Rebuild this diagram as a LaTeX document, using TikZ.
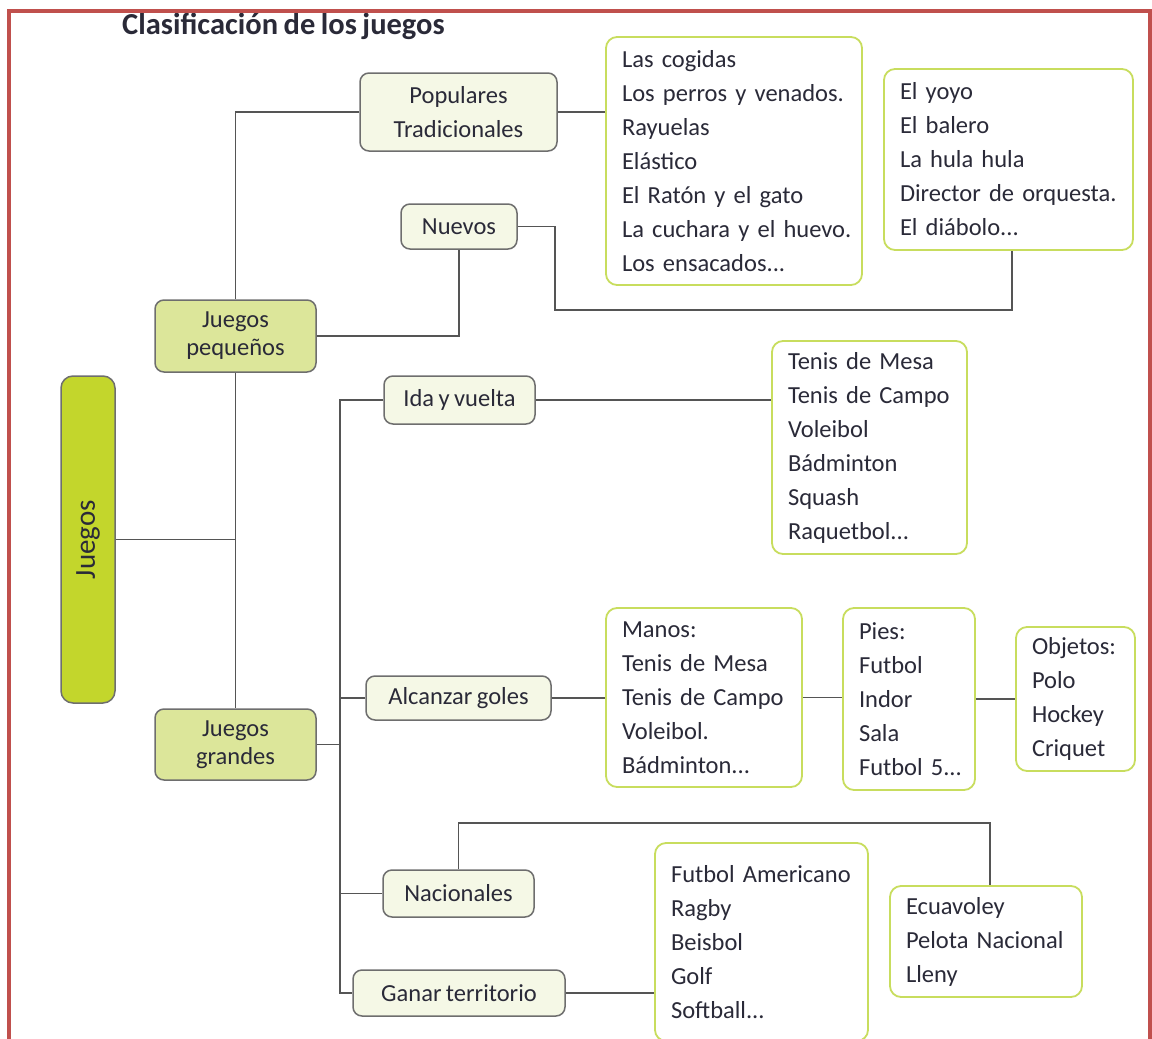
\documentclass[tikz,border=0pt]{standalone}
\usepackage{fontspec}
\setmainfont{Carlito}[WordSpace=0.8]
\definecolor{connc}{HTML}{555555}
\definecolor{nodeb}{HTML}{6E6E6E}
\definecolor{lightfill}{HTML}{F5F8E6}
\definecolor{midfill}{HTML}{DCE69A}
\definecolor{rootfill}{HTML}{C3D62C}
\definecolor{listb}{HTML}{C8DD5E}
\definecolor{txt}{HTML}{2A2A38}
\definecolor{redline}{HTML}{C0504D}
\newcommand\itm[1]{\mbox{#1}}
\begin{document}
\begin{tikzpicture}[x=1pt,y=-1pt,
  conn/.style={draw=connc,line width=1.9pt},
  catbox/.style={draw=nodeb,fill=lightfill,rounded corners=9pt,line width=1.5pt,text=txt,
    font=\fontsize{24.5}{34}\selectfont,align=center,inner sep=0pt},
  bigbox/.style={catbox,fill=midfill,font=\fontsize{24.5}{28}\selectfont},
  rootbox/.style={catbox,fill=rootfill,rounded corners=12pt,font=\fontsize{29}{30}\selectfont},
  listbox/.style={draw=listb,fill=white,rounded corners=11pt,line width=1.8pt,text=txt,
    font=\fontsize{24.5}{34}\selectfont,align=left,inner xsep=16pt,inner ysep=0pt},
  redframe/.style={draw=redline,line width=4pt}]
\useasboundingbox (0,0) rectangle (1152,1039);
\begin{scope}
\clip (0,0) rectangle (1152,1039);
% title
\begin{scope}
\clip (0,12) rectangle (700,60);
\node[anchor=base west,inner sep=0pt,text=txt,font=\bfseries\fontsize{30.5}{31}\selectfont] (title) at (122,34) {Clasificación de los juegos};
\end{scope}
% main nodes
\node[rootbox,rotate=90,minimum width=327pt,minimum height=54pt] (juegos) at (88,539.5) {Juegos};
\node[bigbox,minimum width=161pt,minimum height=72pt] (peq) at (235.5,336) {Juegos\\pequeños};
\node[bigbox,minimum width=161pt,minimum height=71pt] (gra) at (235.5,744.5) {Juegos\\grandes};
\node[catbox,minimum width=197pt,minimum height=78pt] (pop) at (458.5,112) {Populares\\Tradicionales};
\node[catbox,minimum width=116pt,minimum height=45pt] (nue) at (459,226.5) {Nuevos};
\node[catbox,minimum width=151pt,minimum height=48pt] (ida) at (459.5,400) {Ida y vuelta};
\node[catbox,minimum width=185pt,minimum height=44pt] (alc) at (458.5,698) {Alcanzar goles};
\node[catbox,minimum width=151pt,minimum height=47pt] (nac) at (458.5,893.5) {Nacionales};
\node[catbox,minimum width=212pt,minimum height=46pt] (gan) at (459,993) {Ganar territorio};
% lists
\node[listbox,text width=224pt,minimum height=248pt] (l1) at (734,161) {\itm{Las cogidas}\\\itm{Los perros y venados.}\\\itm{Rayuelas}\\\itm{Elástico}\\\itm{El Ratón y el gato}\\\itm{La cuchara y el huevo.}\\\itm{Los ensacados...}};
\node[listbox,text width=217pt,minimum height=181pt] (l2) at (1008.5,159.5) {\itm{El yoyo}\\\itm{El balero}\\\itm{La hula hula}\\\itm{Director de orquesta.}\\\itm{El diábolo...}};
\node[listbox,text width=163pt,minimum height=213pt] (l3) at (869.5,447.5) {\itm{Tenis de Mesa}\\\itm{Tenis de Campo}\\\itm{Voleibol}\\\itm{Bádminton}\\\itm{Squash}\\\itm{Raquetbol...}};
\node[listbox,text width=164pt,minimum height=179pt] (man) at (704,697.5) {\itm{Manos:}\\\itm{Tenis de Mesa}\\\itm{Tenis de Campo}\\\itm{Voleibol.}\\\itm{Bádminton...}};
\node[listbox,text width=100pt,minimum height=182pt] (pie) at (909,699) {\itm{Pies:}\\\itm{Futbol}\\\itm{Indor}\\\itm{Sala}\\\itm{Futbol 5...}};
\node[listbox,text width=87pt,minimum height=144pt] (obj) at (1075.5,699) {\itm{Objetos:}\\\itm{Polo}\\\itm{Hockey}\\\itm{Criquet}};
\node[listbox,text width=160pt,minimum height=111pt] (ecu) at (986,941.5) {\itm{Ecuavoley}\\\itm{Pelota Nacional}\\\itm{Lleny}};
\node[listbox,text width=181pt,minimum height=198pt] (fam) at (761.5,942) {\itm{Futbol Americano}\\\itm{Ragby}\\\itm{Beisbol}\\\itm{Golf}\\\itm{Softball...}};
% connector helper points
\coordinate (nv) at (555,310);
\coordinate (bt) at (340,400);
\coordinate (bb) at (340,993);
\coordinate (nc) at (459,823);
% connectors
\draw[conn] (peq.south) -- (gra.north);
\draw[conn] (juegos.south) -- (juegos.south -| peq.south);
\draw[conn] (peq.north) |- (pop.west);
\draw[conn] (pop.east) -- (pop.east -| l1.west);
\draw[conn] (peq.east) -| (nue.south);
\draw[conn] (nue.east) -| (nv) -| ([xshift=3.5pt]l2.south);
\draw[conn] (ida.west) -- (bt) -- (bb) -- (gan.west);
\draw[conn] (gra.east) -- (gra.east -| bt);
\draw[conn] (alc.west) -- (alc.west -| bt);
\draw[conn] (nac.west) -- (nac.west -| bt);
\draw[conn] (ida.east) -- (ida.east -| l3.west);
\draw[conn] (alc.east) -- (alc.east -| man.west);
\draw[conn] (man.east) -- (man.east -| pie.west);
\draw[conn] (pie.east) -- (pie.east -| obj.west);
\draw[conn] (nac.north) |- (nc) -| ([xshift=4pt]ecu.north);
\draw[conn] (gan.east) -- (gan.east -| fam.west);
% frame
\draw[redframe] (9,1045) -- (9,11) -- (1150,11) -- (1150,1045);
\end{scope}
\end{tikzpicture}
\end{document}
